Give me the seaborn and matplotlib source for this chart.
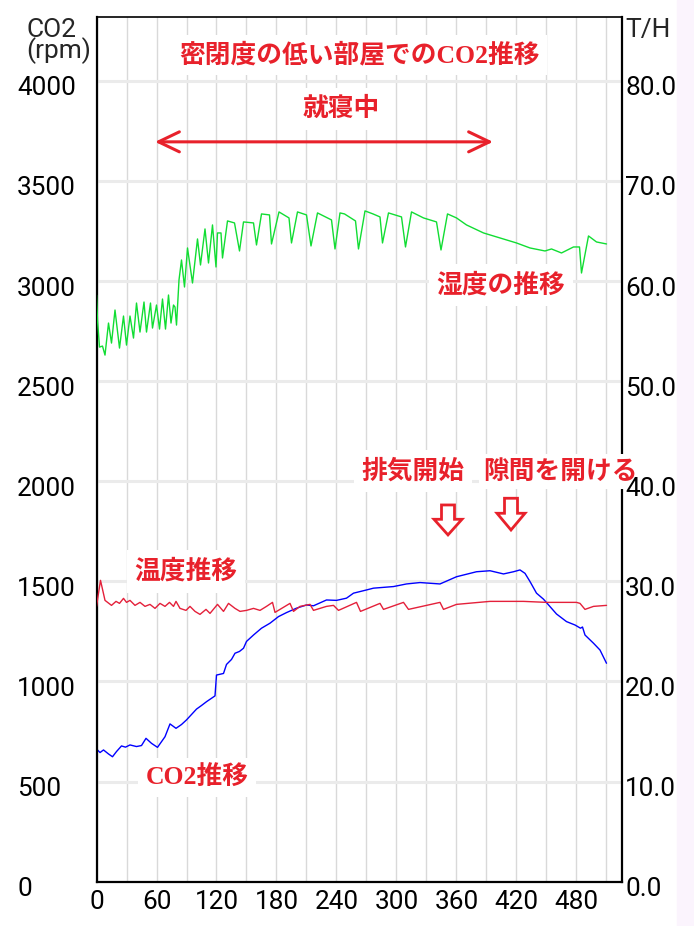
import pandas as pd
import matplotlib
matplotlib.use('Agg')
import matplotlib.pyplot as plt
from matplotlib.patches import Polygon, Rectangle
from matplotlib.transforms import ScaledTranslation
import seaborn as sns

# Minutes since start
hum_t = [0, 1, 3, 6, 8.5, 12, 15, 18.5, 23, 27,
         30, 33.5, 37, 40, 43.5, 47.5, 50, 54, 56, 60,
         63, 66, 69, 72, 74.5, 77, 78.5, 80, 82.5, 85,
         88, 91, 96, 101, 104, 108.5, 112, 116, 119.5, 121,
         124.5, 126, 131, 138, 143, 147, 157, 160, 165, 173,
         175, 182.5, 192.5, 195, 201, 210, 214.5, 221, 235, 238.5,
         243.5, 248, 259, 262, 268.5, 276.5, 283.5, 286, 292, 305,
         309, 315, 327, 340, 344.5, 351, 360, 370, 387, 403.5,
         420, 433.5, 448.5, 455, 465, 477, 483, 485, 492, 500,
         510]
hum_v = [58.6, 56.1, 53.4, 53.5, 52.6, 55.8, 53.8, 57.1, 53.3, 56.5,
         53.6, 56.5, 54.3, 57.8, 54.9, 57.9, 54.9, 57.8, 55.3, 57.6,
         55.2, 58.2, 55.2, 58.6, 55.8, 57.6, 57.4, 55.6, 60.1, 62.1,
         59.4, 63.3, 59.8, 64.2, 61.6, 65.2, 61.8, 65.6, 61.4, 64.8,
         64.8, 62.3, 66.0, 65.8, 63.0, 65.9, 65.8, 63.6, 66.7, 66.6,
         63.7, 66.9, 66.3, 63.8, 66.9, 66.6, 63.5, 66.8, 66.1, 63.2,
         66.8, 66.7, 66.0, 63.2, 67.0, 66.7, 66.4, 63.8, 66.8, 66.4,
         63.4, 66.9, 66.3, 65.9, 63.1, 66.7, 66.3, 65.6, 64.8, 64.3,
         63.8, 63.3, 63.0, 63.2, 62.8, 63.4, 63.4, 60.8, 64.5, 63.9,
         63.7]

temp_t = [0, 4, 8.5, 15, 19.5, 23, 27, 30, 33.5, 38.5,
          43.5, 48.5, 53.5, 58.5, 63.5, 68.5, 73, 77, 79.5, 83.5,
          89.5, 93.5, 98.5, 103.5, 109.5, 113.5, 121, 127, 132, 138.5,
          143.5, 150, 157, 163.5, 170, 176, 178.5, 193.5, 197, 203.5,
          213.5, 217, 230, 237, 242, 260, 264, 283.5, 287, 307,
          312, 343.5, 347, 360, 393.5, 427, 450, 463.5, 480, 483.5,
          488.5, 497, 510]
temp_v = [27.5, 30.1, 28.1, 27.6, 28.0, 27.8, 28.3, 27.9, 28.1, 27.6,
          27.9, 27.5, 27.7, 27.3, 27.8, 27.5, 27.9, 27.5, 28.0, 27.3,
          27.1, 27.5, 27.0, 26.7, 27.2, 26.8, 27.7, 27.0, 27.8, 27.3,
          27.0, 27.1, 27.3, 27.1, 27.5, 27.9, 26.9, 27.8, 27.0, 27.5,
          27.7, 27.1, 27.5, 27.6, 27.1, 27.9, 27.0, 27.8, 27.2, 27.9,
          27.2, 27.9, 27.2, 27.7, 28.0, 28.0, 27.9, 27.9, 27.9, 27.8,
          27.2, 27.5, 27.6]

co2_t = [0, 1, 3.5, 7, 12, 16, 20, 25, 29, 33.5,
         40, 45, 49.5, 55, 61, 68.5, 73.5, 79.5, 85, 90,
         95, 100, 105, 110, 118.5, 120, 127, 130, 135, 138.5,
         143, 147, 150, 157, 165, 173.5, 182, 190, 200, 210,
         217, 230, 240, 250, 257, 270, 277, 287, 297, 310,
         323.5, 343.5, 360, 380, 393.5, 407, 417, 423.5, 428.5, 433.5,
         440, 447, 453.5, 460, 470, 478.5, 484, 486, 488.5, 497,
         503.5, 510]
co2_v = [608, 658, 645, 658, 638, 624, 650, 678, 672, 683,
         675, 680, 716, 691, 671, 724, 788, 766, 785, 808,
         835, 862, 880, 899, 928, 1032, 1040, 1085, 1110, 1141,
         1150, 1166, 1200, 1232, 1266, 1291, 1324, 1344, 1366, 1382,
         1378, 1407, 1405, 1416, 1441, 1457, 1466, 1470, 1474, 1487,
         1494, 1487, 1523, 1548, 1553, 1537, 1548, 1557, 1540, 1499,
         1441, 1411, 1374, 1337, 1299, 1282, 1266, 1272, 1232, 1191,
         1157, 1091]

x_ticks = list(range(0, 481, 60))
co2_ticks = list(range(0, 4001, 500))
th_ticks = list(range(0, 81, 10))

RED = '#e8212b'
TICK_SIZE = 18.8

sns.set_theme(style='white')
plt.rcParams['font.family'] = ['Roboto', 'DejaVu Sans']
cjk = ['Noto Sans CJK JP', 'DejaVu Sans']
cjk_serif = ['Liberation Serif', 'Noto Sans CJK JP']

fig = plt.figure(figsize=(6.94, 9.26), dpi=100)
fig.patches.append(Rectangle((677 / 694, 0), 17 / 694, 1, transform=fig.transFigure,
                             color='#fbf4fd', zorder=0))
ax = fig.add_axes([0.13905, 0.04784, 0.7572, 0.93413])
ax2 = ax.twinx()

co2_df = pd.DataFrame({'t': co2_t, 'v': co2_v})
hum_df = pd.DataFrame({'t': hum_t, 'v': hum_v})
temp_df = pd.DataFrame({'t': temp_t, 'v': temp_v})

sns.lineplot(data=co2_df, x='t', y='v', ax=ax, color='#0000ff', linewidth=1.0)
sns.lineplot(data=hum_df, x='t', y='v', ax=ax2, color='#11dd33', linewidth=1.0)
sns.lineplot(data=temp_df, x='t', y='v', ax=ax2, color='#e4203a', linewidth=1.0)

ax.set_xlim(0, 525.5)
ax.set_ylim(0, 4320)
ax2.set_ylim(0, 86.4)
for a in (ax, ax2):
    a.set_xlabel('')
    a.set_ylabel('')

ax.set_xticks(x_ticks)
ax.set_xticks(list(range(30, 511, 60)), minor=True)
ax.set_yticks(co2_ticks)
ax2.set_yticks(th_ticks)
ax2.set_yticklabels([f'{v:.1f}' for v in th_ticks])

ax.grid(axis='x', which='both', color='#d9d9d9', linewidth=1.0)
ax.grid(axis='y', which='major', color='#ebebeb', linewidth=2.2)
ax.set_axisbelow(True)

ax.tick_params(axis='x', which='both', length=0, pad=6.0, labelsize=TICK_SIZE, colors='black')
ax.tick_params(axis='y', length=0, pad=57.2, labelsize=TICK_SIZE, colors='black')
ax2.tick_params(axis='y', length=0, pad=2.2, labelsize=TICK_SIZE, colors='black')
for lbl in ax.get_yticklabels():
    lbl.set_ha('left')

for side in ('left', 'bottom', 'top'):
    ax.spines[side].set_color('black')
    ax2.spines[side].set_visible(False)
ax.spines['left'].set_linewidth(1.6)
ax.spines['bottom'].set_linewidth(1.6)
ax.spines['top'].set_linewidth(1.2)
ax.spines['right'].set_visible(False)
ax2.spines['right'].set_color('black')
ax2.spines['right'].set_linewidth(1.6)
ax2.yaxis.set_zorder(2.7)

box = dict(boxstyle='square,pad=0.3', fc='white', ec='none')
ax2.text(263, 82.6, '密閉度の低い部屋でのCO2推移', family=cjk_serif, weight='bold',
         fontsize=18.5, color=RED, ha='center', va='center', bbox=box, zorder=3)
ax2.text(244.5, 77.2, '就寝中', family=cjk, weight='bold', fontsize=18.5,
         color=RED, ha='center', va='center', bbox=box, zorder=3)
ax2.annotate('', xy=(58.5, 73.9), xytext=(396.5, 73.9),
             arrowprops=dict(arrowstyle='<->,head_length=1.5,head_width=0.72',
                             color=RED, lw=2.2, shrinkA=0, shrinkB=0, mutation_scale=10))
ax2.text(404.5, 59.6, '湿度の推移', family=cjk, weight='bold', fontsize=18.5,
         color=RED, ha='center', va='center', bbox=box, zorder=3)
ax2.text(316.5, 41.0, '排気開始', family=cjk, weight='bold', fontsize=18.5,
         color=RED, ha='center', va='center', bbox=box, zorder=3)
ax2.text(463.5, 41.0, '隙間を開ける', family=cjk, weight='bold', fontsize=18.5,
         color=RED, ha='center', va='center',
         bbox=dict(boxstyle='square,pad=0.15', fc='white', ec='none'), zorder=2.6)
ax2.text(89.5, 31.0, '温度推移', family=cjk, weight='bold', fontsize=18.5,
         color=RED, ha='center', va='center', bbox=box, zorder=3)
ax2.text(100.5, 10.4, 'CO2推移', family=cjk_serif, weight='bold', fontsize=18.5,
         color=RED, ha='center', va='center', bbox=box, zorder=3)

# hollow down arrows
for cx, top, neck, tip in [(351.5, 37.63, 36.2, 34.64), (414.5, 38.3, 36.8, 35.13)]:
    pts = [(cx - 6.5, top), (cx + 6.5, top), (cx + 6.5, neck), (cx + 14, neck),
           (cx, tip), (cx - 14, neck), (cx - 6.5, neck)]
    ax2.add_patch(Polygon(pts, closed=True, fc='white', ec=RED, lw=2.0, zorder=4))

fig.text(26 / 694, 1 - 41 / 926, 'CO2\n(rpm)', fontsize=19, ha='left', va='center',
         linespacing=0.8)
fig.text(625 / 694, 1 - 30 / 926, 'T/H', fontsize=19, ha='left', va='center')

fig.canvas.draw()
shift = ScaledTranslation(0, -0.05, fig.dpi_scale_trans)
for t in ax.yaxis.get_major_ticks() + ax2.yaxis.get_major_ticks():
    t.label1.set_transform(t.label1.get_transform() + shift)
    t.label2.set_transform(t.label2.get_transform() + shift)

fig.savefig('out.png', dpi=100)
